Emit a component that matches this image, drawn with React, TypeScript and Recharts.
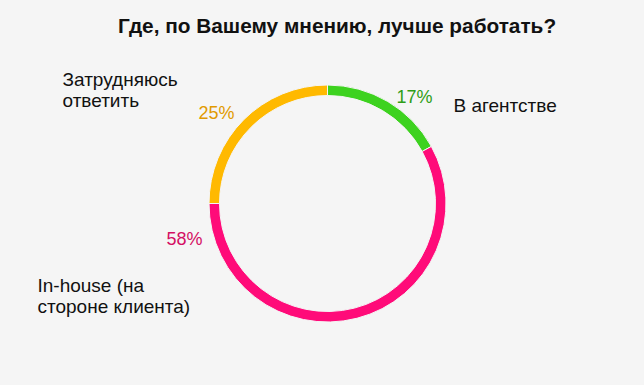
import { Pie, PieChart, Cell } from "recharts";

// Donut: where is it better to work. Slices run clockwise from 12 o'clock.

const CATEGORIES = ["В агентстве", "In-house (на стороне клиента)", "Затрудняюсь ответить"];
const NAME_LINES = [["В агентстве"], ["In-house (на", "стороне клиента)"], ["Затрудняюсь", "ответить"]];
const SHARES = [17, 58, 25];

const SLICE_COLORS = ["#3dd21f", "#ff0b79", "#ffb900"];
const TEXT_COLORS = ["#2f9e17", "#d40f63", "#e19a00"];

// label placement, relative to the pie centre (pixels)
const PCT_OFFSET = [
  { dx: 69, dy: -101 },
  { dx: -161, dy: 41 },
  { dx: -129, dy: -85 },
];
const NAME_OFFSET = [
  { dx: 126, dy: -92 },
  { dx: -290, dy: 88 },
  { dx: -265, dy: -118 },
];
const LINE_H = 21;

const data = CATEGORIES.map((name, i) => ({ name, value: SHARES[i] }));

const FONT = "'Liberation Sans', Arial, sans-serif";

function renderLabel(props: any) {
  const { cx, cy, index, value } = props;
  const p = PCT_OFFSET[index];
  const n = NAME_OFFSET[index];
  return (
    <g key={`lbl-${index}`}>
      <text
        x={cx + p.dx}
        y={cy + p.dy}
        fill={TEXT_COLORS[index]}
        fontSize={18}
        fontFamily={FONT}
        textAnchor="start"
      >
        {`${value}%`}
      </text>
      <text x={cx + n.dx} y={cy + n.dy} fill="#111" fontSize={19} fontFamily={FONT} textAnchor="start">
        {NAME_LINES[index].map((line, k) => (
          <tspan key={k} x={cx + n.dx} dy={k === 0 ? 0 : LINE_H}>
            {line}
          </tspan>
        ))}
      </text>
    </g>
  );
}

export default function App() {
  return (
    <div
      style={{
        position: "fixed",
        left: 0,
        top: 0,
        width: 644,
        height: 385,
        background: "#f5f5f5",
      }}
    >
      <div
        style={{
          position: "absolute",
          top: 14,
          left: 0,
          width: 674,
          textAlign: "center",
          fontFamily: FONT,
          fontWeight: "bold",
          fontSize: 20.8,
          color: "#111",
        }}
      >
        Где, по Вашему мнению, лучше работать?
      </div>
      <PieChart
        width={644}
        height={385}
        margin={{ top: 0, right: 0, bottom: 0, left: 0 }}
        style={{ position: "absolute", left: 0, top: 0 }}
      >
        <Pie
          data={data}
          dataKey="value"
          nameKey="name"
          cx={327.5}
          cy={203.5}
          innerRadius={108}
          outerRadius={118.5}
          startAngle={90}
          endAngle={-270}
          stroke="#f5f5f5"
          strokeWidth={1}
          label={renderLabel}
          labelLine={false}
          isAnimationActive={false}
        >
          {data.map((d, i) => (
            <Cell key={d.name} fill={SLICE_COLORS[i]} />
          ))}
        </Pie>
      </PieChart>
    </div>
  );
}
